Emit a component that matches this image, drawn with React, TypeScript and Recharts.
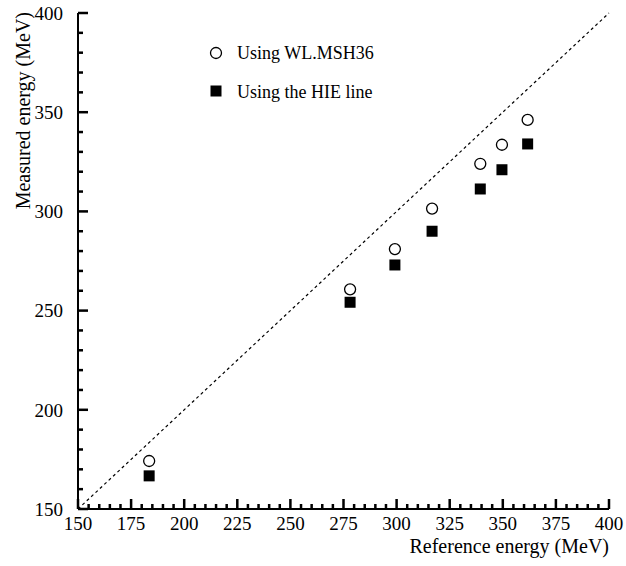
import { ScatterChart, Scatter, XAxis, YAxis, ReferenceLine, Legend } from 'recharts'

const refEnergy = [183.5, 278.1, 299.2, 316.7, 339.4, 349.6, 361.7]
const wlMsh36 = [174.2, 260.7, 281.0, 301.4, 324.0, 333.6, 346.1]
const hieLine = [166.7, 254.2, 273.0, 290.0, 311.3, 321.0, 334.0]

const xTicks = [150, 155, 160, 165, 170, 175, 180, 185, 190, 195, 200, 205, 210, 215, 220, 225, 230, 235, 240, 245, 250, 255, 260, 265, 270, 275, 280, 285, 290, 295, 300, 305, 310, 315, 320, 325, 330, 335, 340, 345, 350, 355, 360, 365, 370, 375, 380, 385, 390, 395, 400]
const yTicks = [150, 160, 170, 180, 190, 200, 210, 220, 230, 240, 250, 260, 270, 280, 290, 300, 310, 320, 330, 340, 350, 360, 370, 380, 390, 400]
const diagonal = [150, 400]

const wlData = refEnergy.map((x, i) => ({ x, y: wlMsh36[i] }))
const hieData = refEnergy.map((x, i) => ({ x, y: hieLine[i] }))

const font = '"Liberation Serif", "Times New Roman", serif'

// ticks point inward, ROOT style: 10px for labelled values, 5px for the rest
const XTick = (props: any) => {
  const { x, y, payload } = props
  const major = payload.value % 25 === 0
  const len = major ? 10 : 5
  const axisY = y - 8
  return (
    <g>
      <rect x={x - 1.25} y={axisY - len} width={2.5} height={len} fill="#000" />
      {major && (
        <text x={x} y={y} dy="0.71em" textAnchor="middle" fontFamily={font} fontSize={19} fill="#000">
          {payload.value}
        </text>
      )}
    </g>
  )
}

const YTick = (props: any) => {
  const { x, y, payload } = props
  const major = payload.value % 50 === 0
  const len = major ? 10 : 5
  const axisX = x + 15
  return (
    <g>
      <rect x={axisX} y={y - 1.25} width={len} height={2.5} fill="#000" />
      {major && (
        <text x={x} y={y} dy="0.355em" textAnchor="end" fontFamily={font} fontSize={19} fill="#000">
          {payload.value}
        </text>
      )}
    </g>
  )
}

const Circle = (props: any) => (
  <circle cx={props.cx} cy={props.cy} r={5.5} fill="#fff" stroke="#000" strokeWidth={1.3} />
)

const Square = (props: any) => (
  <rect x={props.cx - 5.5} y={props.cy - 5.5} width={11} height={11} fill="#000" />
)

const LegendBox = (props: any) => {
  const items = props.payload || []
  return (
    <svg width={220} height={70} style={{ display: 'block' }}>
      {items.map((item: any, i: number) => (
        <g key={item.value}>
          {i === 0 ? (
            <circle cx={8} cy={13} r={5.5} fill="#fff" stroke="#000" strokeWidth={1.3} />
          ) : (
            <rect x={2.5} y={45.5} width={11} height={11} fill="#000" />
          )}
          <text x={29} y={i === 0 ? 19 : 58} fontFamily={font} fontSize={18} fill="#000">
            {item.value}
          </text>
        </g>
      ))}
    </svg>
  )
}

const XTitle = (props: any) => {
  const vb = props.viewBox
  return (
    <text x={vb.x + vb.width} y={553} textAnchor="end" fontFamily={font} fontSize={20} fill="#000">
      Reference energy (MeV)
    </text>
  )
}

const YTitle = () => (
  <text x={30} y={12} transform="rotate(-90, 30, 12)" textAnchor="end" fontFamily={font} fontSize={20} fill="#000">
    Measured energy (MeV)
  </text>
)

const App = () => {
  return (
    <div style={{ position: 'absolute', left: 0, top: 0, background: '#fff' }}>
      <ScatterChart width={626} height={566} margin={{ top: 13, right: 17, bottom: 0, left: 0 }}>
        <XAxis
          type="number"
          dataKey="x"
          domain={[150, 400]}
          ticks={xTicks}
          interval={0}
          height={57}
          tickSize={0}
          tickMargin={8}
          tickLine={false}
          tick={<XTick />}
          axisLine={{ stroke: '#000', strokeWidth: 2 }}
          label={<XTitle />}
          allowDataOverflow
        />
        <YAxis
          type="number"
          dataKey="y"
          domain={[150, 400]}
          ticks={yTicks}
          interval={0}
          width={78}
          tickSize={0}
          tickMargin={15}
          tickLine={false}
          tick={<YTick />}
          axisLine={{ stroke: '#000', strokeWidth: 2 }}
          label={<YTitle />}
          allowDataOverflow
        />
        <XAxis xAxisId="top" orientation="top" type="number" domain={[150, 400]} height={0} tick={false} tickLine={false} axisLine={{ stroke: '#000', strokeWidth: 2 }} />
        <YAxis yAxisId="right" orientation="right" type="number" domain={[150, 400]} width={0} tick={false} tickLine={false} axisLine={{ stroke: '#000', strokeWidth: 2 }} />
        <ReferenceLine
          segment={[{ x: diagonal[0], y: diagonal[0] }, { x: diagonal[1], y: diagonal[1] }]}
          stroke="#000"
          strokeWidth={1.2}
          strokeDasharray="3 3"
          ifOverflow="visible"
        />
        <Scatter name="Using WL.MSH36" data={wlData} shape={<Circle />} isAnimationActive={false} />
        <Scatter name="Using the HIE line" data={hieData} shape={<Square />} isAnimationActive={false} />
        <Legend
          layout="vertical"
          align="center"
          verticalAlign="middle"
          content={<LegendBox />}
          wrapperStyle={{ position: 'absolute', left: 208, top: 40, width: 220, height: 70 }}
        />
      </ScatterChart>
    </div>
  )
}

export default App
